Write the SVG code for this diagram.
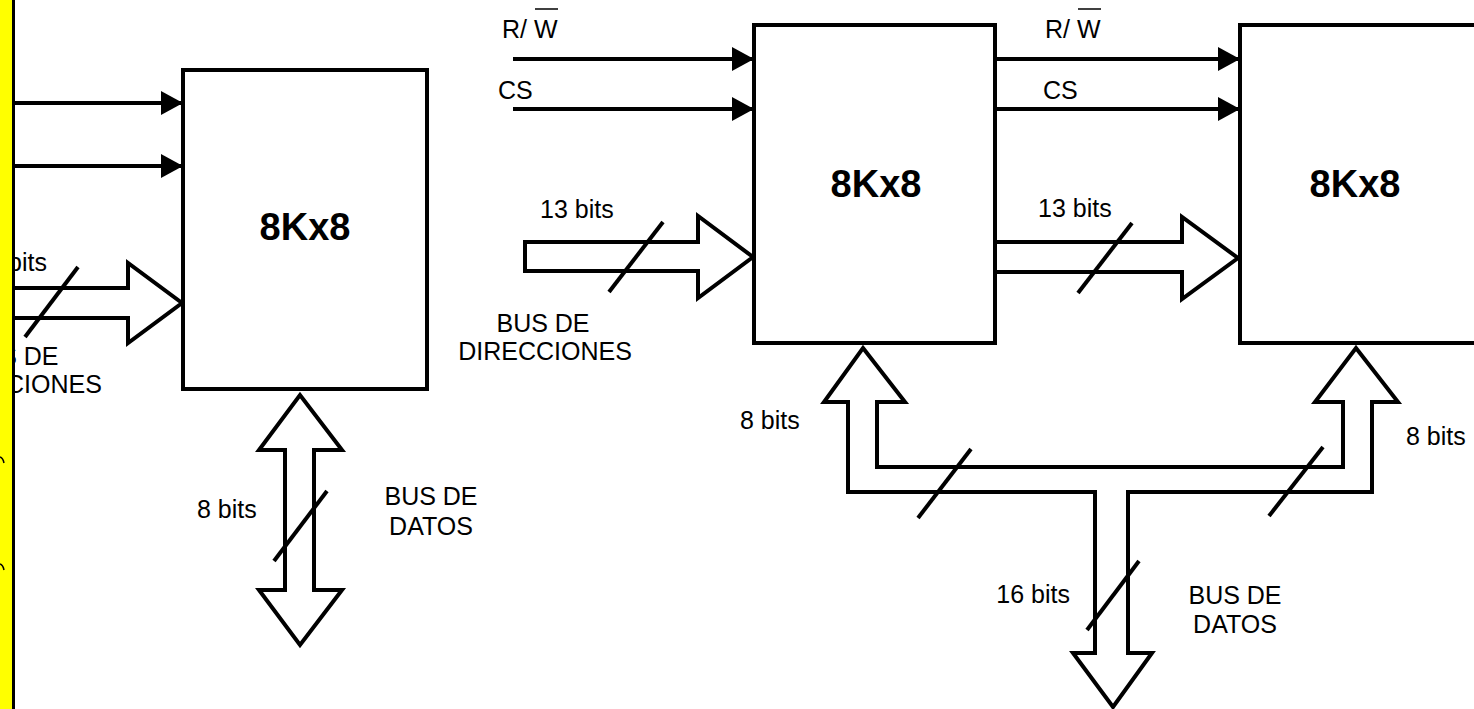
<svg xmlns="http://www.w3.org/2000/svg" width="1474" height="709" viewBox="0 0 1474 709">
<defs>
<style>
.box{fill:#fff;stroke:#000;stroke-width:4}
.bus{fill:#fff;stroke:#000;stroke-width:4;stroke-linejoin:miter}
.wire{fill:none;stroke:#000;stroke-width:4}
.slash{stroke:#000;stroke-width:4}
.t{font-family:"Liberation Sans",Arial,sans-serif;font-size:25px;fill:#000}
.c{text-anchor:middle}
.chip{font-family:"Liberation Sans",Arial,sans-serif;font-size:38px;font-weight:bold;fill:#000;text-anchor:middle}
.ov{stroke:#000;stroke-width:1.5}
</style>
<marker id="ah" viewBox="0 0 22 24" refX="22" refY="12" markerWidth="22" markerHeight="24" markerUnits="userSpaceOnUse" orient="auto">
<path d="M0,0 L22,12 L0,24 Z" fill="#000"/>
</marker>
</defs>
<rect width="1474" height="709" fill="#fff"/>

<g id="connectors">
<!-- left chip control lines -->
<line class="wire" x1="15" y1="103" x2="183" y2="103" marker-end="url(#ah)"/>
<line class="wire" x1="15" y1="166" x2="183" y2="166" marker-end="url(#ah)"/>
<!-- middle chip control lines -->
<line class="wire" x1="513" y1="59" x2="754" y2="59" marker-end="url(#ah)"/>
<line class="wire" x1="513" y1="109" x2="754" y2="109" marker-end="url(#ah)"/>
<!-- right chip control lines -->
<line class="wire" x1="995" y1="59" x2="1240" y2="59" marker-end="url(#ah)"/>
<line class="wire" x1="995" y1="109" x2="1240" y2="109" marker-end="url(#ah)"/>
<!-- address buses -->
<path class="bus" d="M5,288 L128,288 L128,263 L182,303 L128,343 L128,318 L5,318 Z"/>
<path class="bus" d="M525,242 L698,242 L698,216 L753,257 L698,298 L698,271 L525,271 Z"/>
<path class="bus" d="M995,242 L1182,242 L1182,217 L1238,258 L1182,299 L1182,272 L995,272"/>
<!-- left data bus -->
<path class="bus" d="M285,450 L259,450 L300,395 L342,450 L314,450 L314,590 L342,590 L300,645 L259,590 L285,590 Z"/>
<!-- shared data bus -->
<path class="bus" d="M863,348 L905,402 L877,402 L877,467 L1343,467 L1343,402 L1315,402 L1356,348 L1398,402 L1372,402 L1372,492 L1128,492 L1128,653 L1152,653 L1113,707 L1073,653 L1095,653 L1095,492 L848,492 L848,402 L824,402 Z"/>
<!-- slashes -->
<line class="slash" x1="25" y1="337" x2="78" y2="267"/>
<line class="slash" x1="609" y1="292" x2="663" y2="222"/>
<line class="slash" x1="1078" y1="293" x2="1132" y2="223"/>
<line class="slash" x1="274" y1="561" x2="327" y2="491"/>
<line class="slash" x1="918" y1="518" x2="971" y2="449"/>
<line class="slash" x1="1269" y1="516" x2="1323" y2="447"/>
<line class="slash" x1="1087" y1="630" x2="1139" y2="561"/>
</g>

<g id="chip-left">
<rect class="box" x="183" y="70" width="244" height="319"/>
<text class="chip" x="305" y="240">8Kx8</text>
</g>
<g id="chip-middle">
<rect class="box" x="754" y="25" width="241" height="318"/>
<text class="chip" x="876" y="197">8Kx8</text>
</g>
<g id="chip-right">
<rect class="box" x="1240" y="25" width="250" height="318"/>
<text class="chip" x="1355" y="197">8Kx8</text>
</g>

<g id="labels">
<text class="t" x="47" y="271" text-anchor="end">13 bits</text>
<text class="t c" x="12" y="365">BUS DE</text>
<text class="t c" x="15" y="393">DIRECCIONES</text>
<text class="t" x="197" y="518">8 bits</text>
<text class="t c" x="431" y="505">BUS DE</text>
<text class="t c" x="431" y="535">DATOS</text>

<text class="t" x="502" y="38">R/ W</text>
<line class="ov" x1="535" y1="9" x2="558" y2="9"/>
<text class="t" x="498" y="99">CS</text>
<text class="t" x="540" y="218">13 bits</text>
<text class="t c" x="543" y="332">BUS DE</text>
<text class="t c" x="545" y="360">DIRECCIONES</text>

<text class="t" x="1045" y="38">R/ W</text>
<line class="ov" x1="1078" y1="9" x2="1101" y2="9"/>
<text class="t" x="1043" y="99">CS</text>
<text class="t" x="1038" y="217">13 bits</text>

<text class="t" x="740" y="429">8 bits</text>
<text class="t" x="1406" y="445">8 bits</text>
<text class="t" x="1070" y="603" text-anchor="end">16 bits</text>
<text class="t c" x="1235" y="604">BUS DE</text>
<text class="t c" x="1235" y="633">DATOS</text>
</g>

<g id="margin">
<rect x="0" y="0" width="12" height="709" fill="#ffff00"/>
<line x1="13.5" y1="0" x2="13.5" y2="709" stroke="#000" stroke-width="3"/>
<path d="M0,457 Q3,458 4,463" fill="none" stroke="#000" stroke-width="1.5"/>
<path d="M0,564 Q3,565 4,570" fill="none" stroke="#000" stroke-width="1.5"/>
</g>
</svg>
